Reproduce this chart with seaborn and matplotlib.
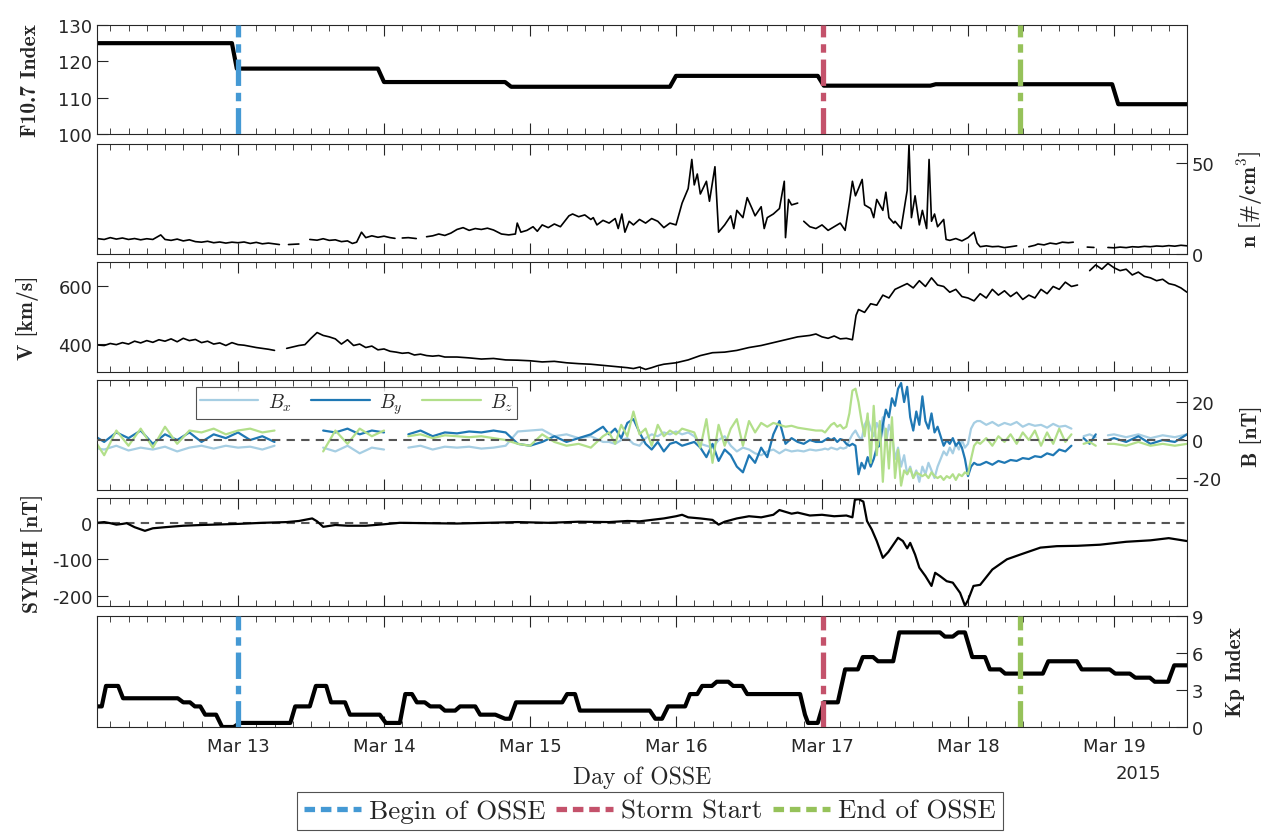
import numpy as np
import pandas as pd
import matplotlib
matplotlib.use("Agg")
import matplotlib.pyplot as plt
import matplotlib.dates as mdates
from matplotlib.lines import Line2D
import seaborn as sns

nan = np.nan
START = pd.Timestamp("2015-03-12")

# ---------------- data (hours since 2015-03-12 00:00 UT) ----------------
f107_hours = [0.8, 23.0, 23.8, 47.0, 48.0, 67.9, 68.9, 95.0, 96.0, 119.3, 120.3,
              137.8, 138.7, 167.7, 168.7, 180.0]
f107_vals = [125, 125, 118, 118, 114.3, 114.3, 113, 113, 116, 116, 113.3,
             113.3, 113.7, 113.7, 108.2, 108.2]

n_hours = [0.8, 2, 3, 4, 5, 6, 7, 8, 9, 10, 11.3, 12, 13, 14, 15, 16, 17, 18, 19, 20,
           21, 22, 23, 24, 25, 26, 27, 28, 29, 30.8, 31, 32.3, 34, 34.5, 35.8, 37, 38, 39, 40,
           41, 42, 42.8, 43.5, 44.3, 45, 46, 47, 48, 49, 49.8, 50.3, 51, 52, 53.3, 54, 55, 56,
           57, 58, 59, 60, 61, 62, 63, 64, 65, 66, 67.3, 68.5, 69.6, 69.9, 70.5, 71.5, 72.5,
           73.2, 74, 75, 76, 77, 78.4, 79, 80, 81, 82, 82.4, 83, 84, 85, 86, 86.5, 87.1, 87.6,
           88.3, 89, 90, 91, 92, 93, 94, 95, 96, 97, 98, 98.6, 99, 99.5, 100, 101, 101.5,
           102.4, 103, 104, 105, 105.5, 106, 107, 107.7, 108.5, 109, 110, 110.5, 111, 112,
           113, 113.8, 114, 114.5, 115, 116, 116.5, 117, 118, 119, 120, 121, 122, 123, 123.8,
           124.5, 125, 125.5, 126, 126.6, 127, 128, 128.5, 129, 130, 130.5, 131, 131.8, 132,
           133, 134, 134.3, 134.7, 135.3, 136, 136.5, 137.2, 137.6, 138, 138.5, 139, 140,
           140.4, 141, 142, 143, 144, 145, 145.5, 146, 147, 148, 149, 150, 151, 152, 153, 154,
           155, 155.5, 156.5, 157.5, 158.5, 159.5, 160.5, 161.3, 161.8, 163.6, 164.7, 165,
           167, 168, 169, 170, 171, 172, 173, 174, 175, 176, 177, 178, 179, 180]
n_vals = [8.5, 8, 9, 8.2, 8.8, 8, 8.5, 7.8, 8.4, 8, 10.5, 8, 7.5, 8.2, 7.2, 7.8, 6.8, 6.5, 7,
          6.2, 6.6, 6, 6.5, 6.2, 6.6, 5.8, 6.4, 5.6, 6, 5.2, nan, 5.2, 5.5, nan, 8, 7.6, 8.4,
          7.5, 7.8, 6.8, 7.2, 5.8, 6.5, 12, 9, 10, 9.2, 9.8, 9, 8.6, nan, 8.8, 9, 8.5, nan,
          9.5, 10, 11, 10.2, 11.5, 13.5, 14.5, 13, 14, 13.5, 14.2, 13.2, 11, 10.5, 11, 17, 12,
          13, 15, 12.5, 16, 14.5, 16.5, 15, 21, 22, 20.5, 21.5, 19, 20, 16, 18.5, 17, 19.5,
          14, 22, 12, 18, 16, 19, 17, 19.5, 18, 14.5, 17, 16, 28, 36, 52, 38, 44, 33, 40, 29,
          48, 12, 16, 21, 14, 24, 20, 31, 25, 21, 26, 14, 20, 22, 25, 40, 9, 30, 27, 28, nan,
          18, 15, 14, 16, 13, 15, 17, 13, 28, 40, 32, 36, 41, 27, 25, 20, 30, 24, 34, 20, 17,
          18, 14, 35, 60, 20, 32, 16, 24, 14, 52, 18, 22, 15, 19, 8, 7.5, 8.5, 7.2, 9, 12, 6,
          4, 4.5, 4, 4.2, 3.5, 4, 4.5, nan, 4, 4.8, 5.5, 5, 6, 5.5, 6.5, 6.2, 6.5, nan, 3.8,
          3.6, nan, 3.6, 3.4, 3.8, 3.5, 4, 3.8, 4.2, 4, 4.4, 4.2, 4.6, 4.3, 4.8, 4.5]

v_hours = [0.8, 2, 3, 4, 5, 6, 7, 8, 9, 10, 11, 12, 13, 14, 15, 16, 17, 18, 19, 20, 21,
           22, 23, 24, 25, 26, 27, 28, 29, 30, 31, 32, 33, 34, 35, 36, 37, 38, 39, 40, 41,
           42, 43, 44, 45, 46, 47, 48, 49, 50, 51, 52, 53, 54, 55, 56, 57, 58, 60, 62, 64,
           66, 68, 70, 72, 74, 76, 78, 80, 82, 84, 86, 88, 89, 90, 91, 92, 93, 94, 96, 98,
           100, 102, 104, 106, 108, 110, 112, 114, 116, 118, 119, 120, 121, 122, 123, 124,
           125, 125.6, 126, 127, 128, 129, 130, 131, 132, 133, 134, 135, 136, 137, 138, 139,
           140, 141, 142, 143, 144, 145, 146, 147, 148, 149, 150, 151, 152, 153, 154, 155,
           156, 157, 158, 159, 160, 161, 162, 163, 164, 165, 166, 167, 168, 169, 170, 171,
           172, 173, 174, 175, 176, 177, 178, 179, 180]
v_vals = [397, 395, 402, 398, 405, 400, 410, 404, 412, 406, 415, 410, 418, 408, 420, 412,
          416, 405, 410, 400, 404, 395, 405, 398, 396, 392, 388, 385, 382, 378, nan, 385, 390,
          395, 398, 420, 440, 430, 425, 418, 400, 415, 395, 400, 388, 393, 380, 383, 375,
          372, 368, 370, 362, 365, 360, 358, 360, 355, 355, 352, 348, 350, 345, 344, 342,
          338, 340, 335, 332, 330, 326, 322, 318, 315, 320, 312, 318, 325, 330, 335, 345,
          360, 370, 372, 378, 388, 395, 405, 415, 425, 430, 435, 425, 420, 428, 418, 420,
          415, 500, 520, 510, 540, 535, 570, 560, 590, 600, 610, 595, 620, 600, 630, 605,
          600, 580, 590, 565, 560, 550, 575, 560, 590, 570, 585, 565, 580, 555, 570, 560,
          590, 575, 600, 590, 615, 600, 605, nan, 655, 675, 660, 680, 665, 655, 660, 640,
          650, 635, 630, 620, 625, 610, 605, 595, 580]

# IMF components on a common time grid (hours)
b_hours = (list(range(0, 85, 2)) + list(range(85, 120))
           + [120 + 0.5 * k for k in range(52)] + list(range(146, 163))
           + [163, 164, 165, 166, 167, 168, 170, 172, 174, 176, 178, 180])
bx_vals = [-4, -5, -3, -5.5, -4, -5, -3.5, -6, -4, -3, -4.5, -3, -4, -3.5, -5, -3, nan, -3,
           nan, -4, -6, -3, -7, -4, -5, nan, -4, -3, -5, -3.5, -4, -3.5, -4.5, -4, -3, 4.5,
           5, 5.5, 2, 3, 1, 2, -1,
           -1, -2, 0, 1, -2, -3, 1, 3, 2, 4, 3, 4.5, 3, 4, 2, -2, -3, -4, 0, 2, -3, -6, -4,
           -5, -7, -8, -6, -5, -7, -5, -6, -5.5, -6, -5, -5.5,
           -5, -4.5, -5, -4, -4.5, -5, -4, -4.5, -4, 0, 3, 5, 2, 0, 8, 11, 6, 2, 9, 5, 12,
           -2, 8, 3, -10, -4, -14, -8, -18, -14, -20, -16, -22, -14, -18, -12, -16, -20,
           -14, -10, -6, -8, -4, -7, -2, -5, 0, -4, -2, 6, 9, 10,
           10, 8, 9.5, 7.5, 9, 8, 9.5, 7, 8.5, 7.5, 8, 6.5, 8.5, 7, 7.5, 6, nan,
           2, 3, 1.5, nan, 2.5, 3, 1.5, 3, 1, 2.5, 1.5, 3]
by_vals = [3, -1, 4, 1, 5, -2, 3, 0, 4, -1, 3, 1, 4, 0, 2, -1, nan, 1, nan, 5, 4, 6, 3, 5,
           4, nan, 3, 5, 2, 4, 3.5, 4.5, 4, 5, 4, -2, -3, -1, 2, -1, 1, 3, 7,
           3, 6, 1, 9, 11, 4, -2, -5, -1, -6, -2, -1, -3, -2, -1, -4, -9, -2, -11, -5, -8,
           -14, -17, -8, -12, -4, -9, 3, 10, -2, 1, -1, -2, 0, -1,
           -1, 0, 1, 0, 1, -1, 0.5, 0, -2, -3, -2, -3, -18, -12, -15, -9, -14, -10, -4, -3,
           8, 16, 12, 22, 18, 27, 30, 20, 28, 12, 5, 15, 8, 23, 10, 6, 14, 4, 7, 2, -3, 0,
           -2, 1, -3, -1, -4, -10, -19, -14, -12, -13,
           -13, -11.5, -13, -11, -12, -10.5, -11, -9.5, -10, -8.5, -9, -7, -8, -5, -6, -3, nan,
           1, -2, 3, nan, 0, 1, -1, 2, -2, 0, -1, 3]
bz_vals = [2, -8, 5, -3, 6, -4, 7, -2, 5, 4, 6, 3, 5, 6, 4, 5, nan, 3, nan, -6, 5, -2, 6, 2,
           5, nan, 2, 3, 1, 2.5, 2, 1.5, 2, 1, 0, -2, -3, 3, -1, -3, -2, -4, 2,
           4, -2, 8, 2, 15, 3, 6, -3, 8, 2, 5, 3, 6, 5, 4, -4, 11, -12, 8, -3, 6, 11, -3, 10,
           4, 9, 7, 9, 8, 7, 7.5, 6.5, 6, 5.5, 5,
           5, 4, 6, 8, 9, 7, 8, 6, 7, 14, 26, 27, 20, 10, 2, 14, -12, 18, -8, 10, -22, 6,
           -15, 12, -20, -5, -24, -16, -18, -15, -20, -17, -18, -19, -18, -20, -17, -19, -20,
           -19, -21, -19, -20, -18, -21, -18, -19, -17, -18, -10, -3, -1,
           -2, 1, -3, 2, -1, 3, -2, 4, 0, 5, -3, 4, -2, 6, -1, 3, nan,
           -2, -1, -3, nan, -2, -2, -3, -1, -3, -2, -3, -2]

symh_hours = [0.8, 2, 3, 4, 5, 5.7, 7, 8.7, 10, 12, 15, 18, 20, 24, 28, 32, 34, 36.2, 37,
              38, 40, 42, 45, 48, 50.6, 55, 60, 65, 70, 75, 80, 85, 88, 90, 92, 94, 96, 97,
              98, 100, 102, 103, 104, 106, 108, 110, 112, 113, 114, 115, 116, 118, 120, 122,
              124, 125, 125.4, 126, 126.8, 127.4, 128.2, 129, 130, 130.9, 132.5, 133.3, 134,
              134.5, 135.3, 136, 137, 138, 138.6, 139.4, 140.5, 141.5, 142.7, 143.5, 144,
              144.9, 146, 148, 150.4, 152.6, 155.9, 158.6, 162, 165.7, 170, 174, 177, 180]
symh_vals = [0, 2, -1, -5, -3, -1, -12, -22, -15, -12, -8, -6, -5, -3, 0, 2, 5, 12, 4, -11,
             -6, -8, -8, -4, 0, -1, -2, 0, 2, 0, 3, 2, 5, 4, 8, 12, 18, 22, 15, 12, 8, -5, 3,
             12, 18, 15, 22, 35, 30, 25, 28, 20, 22, 18, 20, 15, 63, 65, 58, 5, -19, -50, -96,
             -80, -41, -50, -70, -55, -87, -123, -146, -173, -137, -146, -160, -164, -192,
             -227, -212, -173, -170, -128, -100, -87, -68, -64, -63, -60, -52, -48, -42, -50]

kp_hours = [0.8, 1.6, 2.3, 4.3, 5.1, 14.1, 15.0, 16.1, 16.9, 17.8, 18.6, 19.7, 20.4, 21.4,
            23.3, 24.3, 32.6, 33.4, 35.8, 36.8, 38.5, 39.3, 41.6, 42.4, 47.3, 48.3, 50.6,
            51.5, 52.6, 53.4, 54.7, 55.6, 57.2, 58.0, 59.7, 60.5, 63.0, 63.8, 66.3, 67.9,
            68.7, 69.7, 77.3, 78.1, 79.4, 80.2, 91.7, 92.6, 93.7, 94.7, 97.5, 98.3, 99.5,
            100.3, 101.9, 102.7, 104.6, 105.4, 106.9, 107.7, 116.4, 117.2, 117.7, 119.3,
            120.3, 122.6, 123.8, 125.9, 126.7, 128.4, 129.2, 131.7, 132.7, 139.4, 140.2,
            141.5, 142.4, 143.5, 144.7, 146.8, 147.6, 149.3, 150.1, 156.3, 157.2, 161.9,
            162.7, 167.3, 168.2, 170.6, 171.5, 173.9, 174.7, 176.9, 177.9, 180.0]
kp_vals = [1.67, 1.67, 3.33, 3.33, 2.33, 2.33, 2.0, 2.0, 1.67, 1.67, 1.0, 1.0, 1.0, 0.0,
           0.0, 0.33, 0.33, 1.67, 1.67, 3.33, 3.33, 2.0, 2.0, 1.0, 1.0, 0.33, 0.33, 2.67,
           2.67, 2.0, 2.0, 1.67, 1.67, 1.33, 1.33, 1.67, 1.67, 1.0, 1.0, 0.67, 0.67, 2.0,
           2.0, 2.67, 2.67, 1.33, 1.33, 0.67, 0.67, 1.67, 1.67, 2.67, 2.67, 3.33, 3.33, 3.67,
           3.67, 3.33, 3.33, 2.67, 2.67, 1.0, 0.33, 0.33, 2.0, 2.0, 4.67, 4.67, 5.67, 5.67,
           5.33, 5.33, 7.67, 7.67, 7.33, 7.33, 7.67, 7.67, 5.67, 5.67, 4.67, 4.67, 4.33, 4.33,
           5.33, 5.33, 4.67, 4.67, 4.33, 4.33, 4.0, 4.0, 3.67, 3.67, 5.0, 5.0]

event_names = ["Begin of OSSE", "Storm Start", "End of OSSE"]
event_hours = [23.95, 120.2, 152.6]
event_colors = ["#4499d4", "#c4526b", "#96c25a"]

for name, h, v in [("n", n_hours, n_vals), ("v", v_hours, v_vals), ("symh", symh_hours, symh_vals),
                   ("kp", kp_hours, kp_vals), ("f107", f107_hours, f107_vals),
                   ("bx", b_hours, bx_vals), ("by", b_hours, by_vals), ("bz", b_hours, bz_vals)]:
    assert len(h) == len(v), (name, len(h), len(v))


def T(h):
    return START + pd.to_timedelta(np.asarray(h, float), unit="h")


# ---------------- style ----------------
sns.set_theme(style="ticks")
plt.rcParams["font.family"] = ["DejaVu Sans"]
plt.rcParams["axes.unicode_minus"] = False
plt.rcParams["mathtext.fontset"] = "cm"
TXT = "#262626"
LBL = dict(family="cmb10", size=15.5, color=TXT)
TICK_FS = 13

fig = plt.figure(figsize=(12.65, 8.37), dpi=100)
W, H = 1265.0, 837.0
x0, x1 = 97, 1187
panels = [(26, 135), (145, 255), (263, 373), (381, 491), (499, 607), (617, 728)]
axes = [fig.add_axes([x0 / W, 1 - b / H, (x1 - x0) / W, (b - t) / H]) for t, b in panels]

xlim = (T([0.82])[0], T([180.0])[0])
for i, ax in enumerate(axes):
    ax.set_xlim(*xlim)
    ax.xaxis.set_major_locator(mdates.DayLocator())
    ax.xaxis.set_minor_locator(mdates.HourLocator(byhour=range(0, 24, 3)))
    ax.xaxis.set_major_formatter(mdates.DateFormatter("%b %d"))
    ax.tick_params(axis="x", which="major", direction="in", length=8, width=0.8,
                   top=True, bottom=True, color=TXT, labelbottom=(i == 5),
                   labelsize=TICK_FS, labelcolor=TXT, pad=7)
    ax.tick_params(axis="x", which="minor", direction="in", length=4, width=0.6,
                   top=True, bottom=True, color=TXT)
    ax.tick_params(axis="y", direction="in", length=8, width=0.8, color=TXT,
                   labelsize=TICK_FS, labelcolor=TXT)
    for s in ax.spines.values():
        s.set_color(TXT)
        s.set_linewidth(0.8)
    ax.set_xlabel("")

# Panel 1: F10.7
ax = axes[0]
sns.lineplot(x=T(f107_hours), y=f107_vals, ax=ax, color="black", lw=3, estimator=None, sort=False)
ax.set_ylim(100, 130)
ax.set_yticks([100, 110, 120, 130])
ax.set_ylabel("F10.7 Index", labelpad=13, **LBL)

# Panel 2: density
ax = axes[1]
ax.plot(T(n_hours), n_vals, color="black", lw=1.2)
ax.set_ylim(0, 60.5)
ax.set_yticks([0, 50])
ax.yaxis.tick_right()
ax.yaxis.set_label_position("right")
ax.set_ylabel(r"n [#/cm$^{\mathbf{3}}$]", labelpad=15, **LBL)

# Panel 3: speed
ax = axes[2]
ax.plot(T(v_hours), v_vals, color="black", lw=1.2)
ax.set_ylim(303, 685)
ax.set_yticks([400, 600])
ax.set_ylabel("V [km/s]", labelpad=14, **LBL)

# Panel 4: IMF
ax = axes[3]
bcols = ["#a6cee3", "#1f78b4", "#b2df8a"]
for vals, c, lab in zip([bx_vals, by_vals, bz_vals], bcols, [r"$B_x$", r"$B_y$", r"$B_z$"]):
    ax.plot(T(b_hours), vals, color=c, lw=1.6, label=lab)
ax.axhline(0, color="#555555", lw=1.5, ls=(0, (4, 3)), zorder=5)
ax.set_ylim(-26.3, 31.6)
ax.set_yticks([-20, 0, 20])
ax.yaxis.tick_right()
ax.yaxis.set_label_position("right")
ax.set_ylabel("B [nT]", labelpad=14, **LBL)
leg = ax.legend(loc="upper left", bbox_to_anchor=(0.091, 0.935), ncol=3, fontsize=14,
                frameon=True, fancybox=False, edgecolor=TXT, handlelength=3.0,
                columnspacing=1.0, handletextpad=0.5, borderpad=0.2, borderaxespad=0)
leg.get_frame().set_linewidth(0.8)

# Panel 5: SYM-H
ax = axes[4]
sns.lineplot(x=T(symh_hours), y=symh_vals, ax=ax, color="black", lw=1.6, estimator=None, sort=False)
ax.axhline(0, color="#555555", lw=1.5, ls=(0, (4, 3)), zorder=1)
ax.set_ylim(-228, 68)
ax.set_yticks([-200, -100, 0])
ax.set_ylabel("SYM-H [nT]", labelpad=6, **LBL)

# Panel 6: Kp
ax = axes[5]
sns.lineplot(x=T(kp_hours), y=kp_vals, ax=ax, color="black", lw=3, estimator=None, sort=False)
ax.set_ylim(0, 9)
ax.set_yticks([0, 3, 6, 9])
ax.yaxis.tick_right()
ax.yaxis.set_label_position("right")
ax.set_ylabel("Kp Index", labelpad=16, **LBL)
ax.set_xlabel("Day of OSSE", family="cmr10", size=17, color=TXT, labelpad=8)
ax.annotate("2015", xy=(T([172.0])[0], 0), xycoords=("data", "axes fraction"),
            xytext=(0, -27), textcoords="offset points", ha="center", va="top",
            fontsize=TICK_FS, color=TXT)

# event lines
for ax in (axes[0], axes[5]):
    for h, c in zip(event_hours, event_colors):
        ax.axvline(T([h])[0], color=c, lw=3.8, ls=(0, (5, 1.3, 1.6, 1.3)), zorder=4)

handles = [Line2D([], [], color=c, lw=3.8, ls=(0, (2.0, 1.1))) for c in event_colors]
fleg = fig.legend(handles, event_names, loc="center", bbox_to_anchor=(650 / W, 1 - 812 / H),
                  ncol=3, frameon=True, fancybox=False, edgecolor=TXT,
                  prop=dict(family="cmr10", size=19.5), handlelength=2.1,
                  columnspacing=0.4, handletextpad=0.3, borderpad=0.25)
fleg.get_frame().set_linewidth(0.8)

fig.savefig("out.png", dpi=100)
